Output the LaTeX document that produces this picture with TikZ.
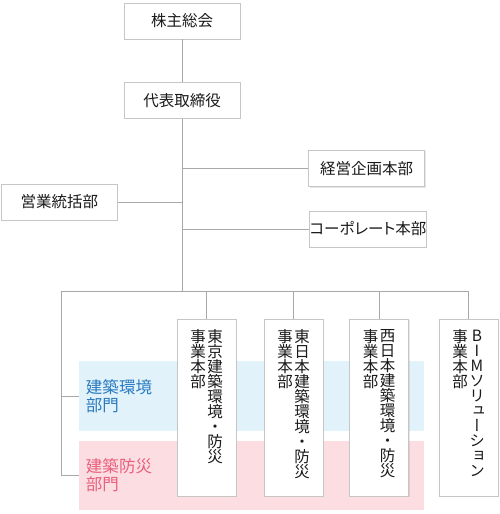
\documentclass[tikz,border=0pt]{standalone}
\usepackage{fontspec}
\newfontfamily\jpfont{Noto Sans CJK JP}
\newfontfamily\jppalt{Noto Sans CJK JP}[RawFeature=+palt]
\newfontfamily\jptate{Noto Sans CJK JP}[RawFeature=+vert]
\usetikzlibrary{calc, shadows}
\definecolor{linegray}{HTML}{A8A8A8}
\definecolor{boxgray}{HTML}{C6C6C6}
\definecolor{bandblue}{HTML}{E1F2FB}
\definecolor{bandpink}{HTML}{FBDDE2}
\definecolor{textblue}{HTML}{2A7AC0}
\definecolor{textpink}{HTML}{E9607E}
\definecolor{textdark}{HTML}{1A1A1A}
\tikzset{
    org-box/.style={
        draw=boxgray, fill=white, line width=.8bp, inner sep=0pt, text=textdark,
        drop shadow={shadow xshift=1bp, shadow yshift=-1bp, opacity=.2}
    },
    top-box/.style={
        org-box, minimum width=116bp, minimum height=36bp,
        font=\jpfont\fontsize{15.5bp}{15.5bp}\selectfont
    },
    tall-box/.style={
        org-box, minimum width=59bp, minimum height=177bp
    },
    tate-text/.style={
        inner sep=0pt, align=center, anchor=north, text=textdark,
        font=\jptate\fontsize{15.5bp}{15bp}\selectfont
    },
    band/.style={
        inner sep=0pt, minimum width=345bp, draw=none
    },
    band-text/.style={
        inner sep=0pt, anchor=west, align=left,
        font=\jpfont\fontsize{16.5bp}{18bp}\selectfont
    },
    wire/.style={
        draw=linegray, line width=.8bp
    },
}
\begin{document}
\begin{tikzpicture}[x=1bp, y=-1bp]
        \useasboundingbox (0,0) rectangle (500,514);

        % BANDS
        \node[band, fill=bandblue, minimum height=70bp] (KANKYO) at (251.5,396)   {};
        \node[band, fill=bandpink, minimum height=69bp] (BOSAI)  at (251.5,475.5) {};
        \node[band-text, text=textblue] (KANKYOTXT) at ($(KANKYO.west) + (7, 0)$) {建築環境\\部門};
        \node[band-text, text=textpink] (BOSAITXT)  at ($(BOSAI.west) + (7, 0)$)  {建築防災\\部門};

        % TOP
        \node[top-box] (SOKAI)  at (182,21)    {株主総会};
        \node[top-box] (DAIHYO) at (182,100.5) {代表取締役};

        % STAFF
        \node[top-box]               (KEIEI) at (366.5,168.5) {経営企画本部};
        \node[top-box]               (EIGYO) at (59.25,202)   {営業統括部};
        \node[top-box, font=\jppalt\fontsize{15.5bp}{15.5bp}\selectfont]
                                     (CORP)  at (368,229)     {コーポレート本部};

        % BUSINESS UNITS
        \node[tall-box] (TOKYO)   at (206.5,407.5) {};
        \node[tall-box] (HIGASHI) at (293.5,407.5) {};
        \node[tall-box] (NISHI)   at (379,407.5)   {};
        \node[tall-box] (BIM)     at (468.5,407.5) {};
        \node[tate-text] (TOKYOR)   at ($(TOKYO.north) + (8.5, 11)$)    {東\\京\\建\\築\\環\\境\\・\\防\\災};
        \node[tate-text] (TOKYOL)   at ($(TOKYO.north) + (-8.5, 11)$)   {事\\業\\本\\部};
        \node[tate-text] (HIGASHIR) at ($(HIGASHI.north) + (8.5, 11)$)  {東\\日\\本\\建\\築\\環\\境\\・\\防\\災};
        \node[tate-text] (HIGASHIL) at ($(HIGASHI.north) + (-8.5, 11)$) {事\\業\\本\\部};
        \node[tate-text] (NISHIR)   at ($(NISHI.north) + (8.5, 11)$)    {西\\日\\本\\建\\築\\環\\境\\・\\防\\災};
        \node[tate-text] (NISHIL)   at ($(NISHI.north) + (-8.5, 11)$)   {事\\業\\本\\部};
        \node[tate-text] (BIMR)     at ($(BIM.north) + (8.5, 11)$)      {B\\I\\M\\ソ\\リ\\ュ\\ー\\シ\\ョ\\ン};
        \node[tate-text] (BIML)     at ($(BIM.north) + (-8.5, 11)$)     {事\\業\\本\\部};

        % CONNECTOR POINTS
        \coordinate (BUSL)   at (61,291);
        \coordinate (BUSTOP) at (DAIHYO.south |- BUSL);
        \coordinate (BUSR)   at (BIM.north |- BUSL);

        % MAIN LINE
        \draw[wire] (SOKAI)        -- (DAIHYO);
        \draw[wire] (DAIHYO.south) -- (BUSTOP);

        % STAFF CONNECTIONS
        \draw[wire] (DAIHYO.south |- KEIEI.west) -- (KEIEI.west);
        \draw[wire] (DAIHYO.south |- EIGYO.east) -- (EIGYO.east);
        \draw[wire] (DAIHYO.south |- CORP.west)  -- (CORP.west);

        % BUS AND UNIT CONNECTIONS
        \draw[wire] (BUSL) -- (BUSR);
        \draw[wire] (TOKYO.north |- BUSL)   -- (TOKYO.north);
        \draw[wire] (HIGASHI.north |- BUSL) -- (HIGASHI.north);
        \draw[wire] (NISHI.north |- BUSL)   -- (NISHI.north);
        \draw[wire] (BUSR)                  -- (BIM.north);

        % BAND CONNECTIONS
        \draw[wire] (BUSL) |- (KANKYO.west);
        \draw[wire] (BUSL) |- (BOSAI.west);

    \end{tikzpicture}
\end{document}
